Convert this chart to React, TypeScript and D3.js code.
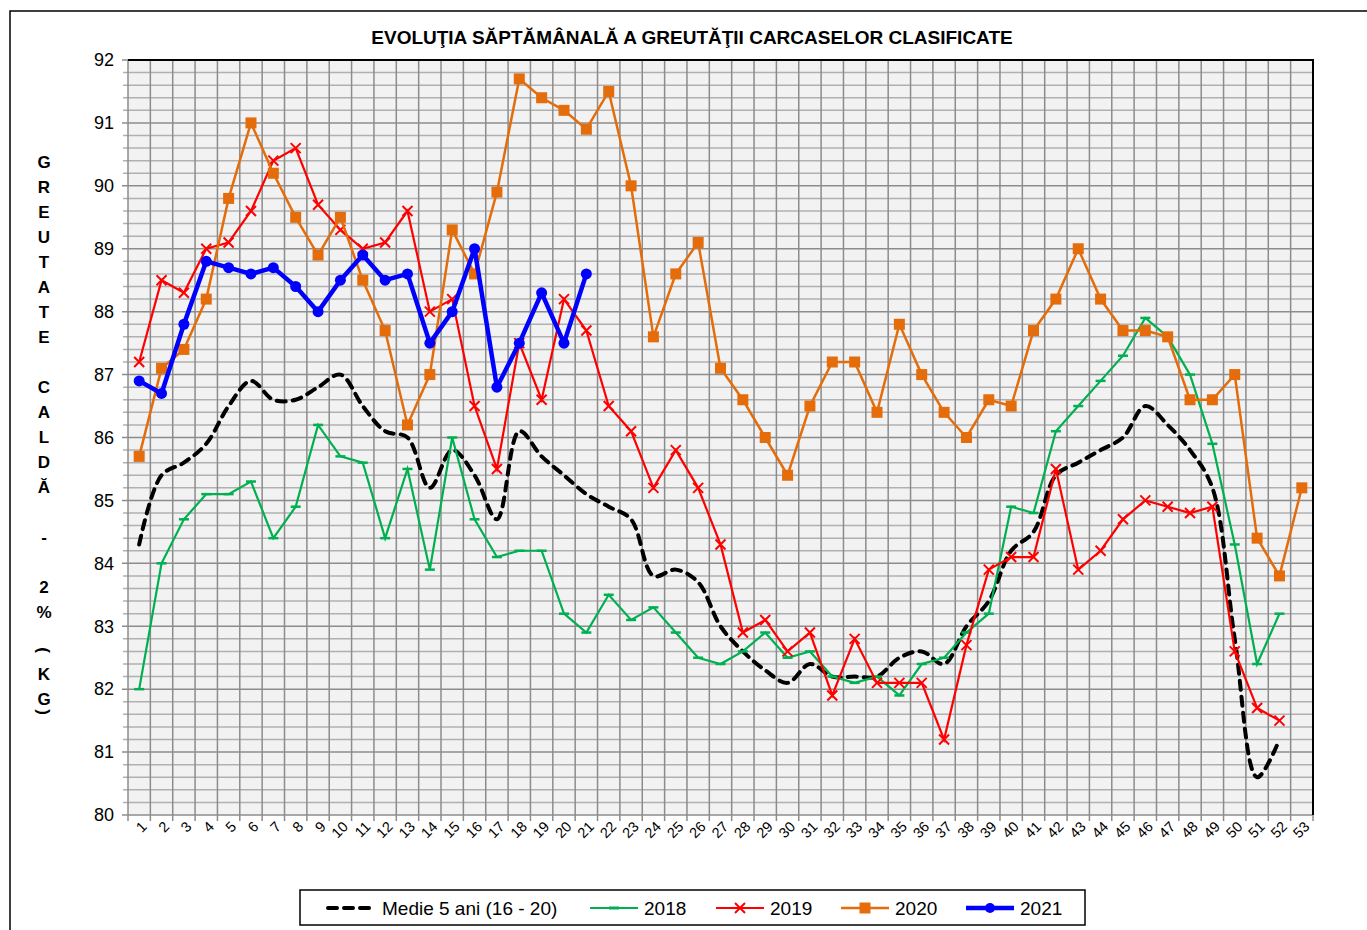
import React, { useEffect, useRef } from 'react';
import * as d3 from 'd3';

// week numbers on the x axis
const weeks: number[] = d3.range(1, 54);

// series values (kg)
const medie5: number[] = [84.3, 85.4, 85.6, 85.9, 86.5, 86.9, 86.6, 86.6, 86.8, 87.0, 86.5, 86.1, 86.0, 85.2, 85.8, 85.4, 84.7, 86.1, 85.7, 85.4, 85.1, 84.9, 84.7, 83.8, 83.9, 83.7, 83.0, 82.6, 82.3, 82.1, 82.4, 82.2, 82.2, 82.2, 82.5, 82.6, 82.4, 83.0, 83.4, 84.2, 84.5, 85.4, 85.6, 85.8, 86.0, 86.5, 86.2, 85.8, 85.2, 82.8, 80.6, 81.2];
const y2018: number[] = [82.0, 84.0, 84.7, 85.1, 85.1, 85.3, 84.4, 84.9, 86.2, 85.7, 85.6, 84.4, 85.5, 83.9, 86.0, 84.7, 84.1, 84.2, 84.2, 83.2, 82.9, 83.5, 83.1, 83.3, 82.9, 82.5, 82.4, 82.6, 82.9, 82.5, 82.6, 82.2, 82.1, 82.2, 81.9, 82.4, 82.5, 82.9, 83.2, 84.9, 84.8, 86.1, 86.5, 86.9, 87.3, 87.9, 87.6, 87.0, 85.9, 84.3, 82.4, 83.2];
const y2019: number[] = [87.2, 88.5, 88.3, 89.0, 89.1, 89.6, 90.4, 90.6, 89.7, 89.3, 89.0, 89.1, 89.6, 88.0, 88.2, 86.5, 85.5, 87.5, 86.6, 88.2, 87.7, 86.5, 86.1, 85.2, 85.8, 85.2, 84.3, 82.9, 83.1, 82.6, 82.9, 81.9, 82.8, 82.1, 82.1, 82.1, 81.2, 82.7, 83.9, 84.1, 84.1, 85.5, 83.9, 84.2, 84.7, 85.0, 84.9, 84.8, 84.9, 82.6, 81.7, 81.5];
const y2020: number[] = [85.7, 87.1, 87.4, 88.2, 89.8, 91.0, 90.2, 89.5, 88.9, 89.5, 88.5, 87.7, 86.2, 87.0, 89.3, 88.6, 89.9, 91.7, 91.4, 91.2, 90.9, 91.5, 90.0, 87.6, 88.6, 89.1, 87.1, 86.6, 86.0, 85.4, 86.5, 87.2, 87.2, 86.4, 87.8, 87.0, 86.4, 86.0, 86.6, 86.5, 87.7, 88.2, 89.0, 88.2, 87.7, 87.7, 87.6, 86.6, 86.6, 87.0, 84.4, 83.8, 85.2];
const y2021: number[] = [86.9, 86.7, 87.8, 88.8, 88.7, 88.6, 88.7, 88.4, 88.0, 88.5, 88.9, 88.5, 88.6, 87.5, 88.0, 89.0, 86.8, 87.5, 88.3, 87.5, 88.6];

const yTicks: number[] = [80, 81, 82, 83, 84, 85, 86, 87, 88, 89, 90, 91, 92];
const axisTitle: string[] = ['G', 'R', 'E', 'U', 'T', 'A', 'T', 'E', ' ', 'C', 'A', 'L', 'D', 'Ă', ' ', '-', ' ', '2', '%', ' ', '(', 'K', 'G', ')'];

const FONT = 'Liberation Sans, Arial, sans-serif';

const App = () => {
    const ref = useRef<SVGSVGElement>(null);

    useEffect(() => {
        const svg = d3.select(ref.current);
        svg.selectAll('*').remove();

        const left = 128, right = 1313, top = 60, bottom = 815;

        // outer chart frame
        svg.append('rect').attr('x', 10).attr('y', 11).attr('width', 1400).attr('height', 1000)
            .attr('fill', '#fff').attr('stroke', '#000').attr('stroke-width', 1.5);

        svg.append('text').attr('x', 692).attr('y', 44).attr('text-anchor', 'middle')
            .attr('font-family', FONT).attr('font-weight', 'bold').attr('font-size', 19)
            .text('EVOLUŢIA SĂPTĂMÂNALĂ A GREUTĂŢII CARCASELOR CLASIFICATE');

        const x = d3.scaleBand<number>().domain(weeks).range([left, right]);
        const y = d3.scaleLinear().domain([80, 92]).range([bottom, top]);
        const cx = (i: number) => (x(weeks[i]) as number) + x.bandwidth() / 2;

        // plot area
        svg.append('rect').attr('x', left).attr('y', top).attr('width', right - left).attr('height', bottom - top)
            .attr('fill', '#f2f2f2');

        // minor horizontal gridlines
        const minor = d3.range(80, 92.001, 0.2).map((v) => +v.toFixed(1));
        svg.append('g').selectAll('line').data(minor.filter((v) => Math.abs(v - Math.round(v)) > 0.01)).enter()
            .append('line').attr('x1', left - 5).attr('x2', right).attr('y1', (d) => y(d)).attr('y2', (d) => y(d))
            .attr('stroke', '#b0b0b0').attr('stroke-width', 1.5);

        // vertical gridlines at week boundaries
        const bounds = weeks.map((w) => x(w) as number).concat([right]);
        svg.append('g').selectAll('line').data(bounds).enter()
            .append('line').attr('x1', (d) => d).attr('x2', (d) => d).attr('y1', top).attr('y2', bottom + 6)
            .attr('stroke', '#8c8c8c').attr('stroke-width', 1.5);

        // major horizontal gridlines
        svg.append('g').selectAll('line').data(yTicks).enter()
            .append('line').attr('x1', left - 6).attr('x2', right).attr('y1', (d) => y(d)).attr('y2', (d) => y(d))
            .attr('stroke', '#8c8c8c').attr('stroke-width', 1.5);

        // plot border top/right
        svg.append('line').attr('x1', left).attr('x2', right + 1).attr('y1', top).attr('y2', top).attr('stroke', '#000').attr('stroke-width', 2);
        svg.append('line').attr('x1', right).attr('x2', right).attr('y1', top).attr('y2', bottom).attr('stroke', '#000').attr('stroke-width', 2);

        // y tick labels
        svg.append('g').selectAll('text').data(yTicks).enter()
            .append('text').attr('x', 114).attr('y', (d) => y(d)).attr('dy', '0.35em').attr('text-anchor', 'end')
            .attr('font-family', FONT).attr('font-size', 18).text((d) => d);

        // x tick labels, rotated
        svg.append('g').selectAll('text').data(weeks).enter()
            .append('text')
            .attr('transform', (d, i) => `translate(${cx(i) + 5},${bottom + 9}) rotate(-45)`)
            .attr('text-anchor', 'end').attr('dy', '0.35em')
            .attr('font-family', FONT).attr('font-size', 14.5).text((d) => d);

        // stacked y axis title
        let ty = 162;
        axisTitle.forEach((ch) => {
            if (ch === '(' || ch === ')') {
                ty -= 12;
                svg.append('text').attr('transform', `translate(44,${ty}) rotate(90)`)
                    .attr('text-anchor', 'middle').attr('dy', '0.35em')
                    .attr('font-family', FONT).attr('font-weight', 'bold').attr('font-size', 17).text(ch);
                ty += 24;
                return;
            }
            svg.append('text').attr('x', 44).attr('y', ty).attr('text-anchor', 'middle').attr('dy', '0.35em')
                .attr('font-family', FONT).attr('font-weight', 'bold').attr('font-size', 17).text(ch);
            ty += 25;
        });

        const line = d3.line<number>().x((d, i) => cx(i)).y((d) => y(d));
        const smooth = d3.line<number>().x((d, i) => cx(i)).y((d) => y(d)).curve(d3.curveCatmullRom.alpha(0.5));

        // Medie 5 ani
        svg.append('path').datum(medie5).attr('d', smooth).attr('fill', 'none')
            .attr('stroke', '#000').attr('stroke-width', 4).attr('stroke-dasharray', '9,7').attr('stroke-linecap', 'round');

        // 2018
        svg.append('path').datum(y2018).attr('d', line).attr('fill', 'none').attr('stroke', '#00b050').attr('stroke-width', 2.2);
        svg.append('g').selectAll('line').data(y2018).enter().append('line')
            .attr('x1', (d, i) => cx(i) - 5).attr('x2', (d, i) => cx(i) + 5).attr('y1', (d) => y(d)).attr('y2', (d) => y(d))
            .attr('stroke', '#00b050').attr('stroke-width', 2.5);

        // 2019
        svg.append('path').datum(y2019).attr('d', line).attr('fill', 'none').attr('stroke', '#ff0000').attr('stroke-width', 2.2);
        svg.append('g').selectAll('path').data(y2019).enter().append('path')
            .attr('d', (d, i) => { const px = cx(i), py = y(d), s = 5; return `M${px - s},${py - s}L${px + s},${py + s}M${px - s},${py + s}L${px + s},${py - s}`; })
            .attr('stroke', '#ff0000').attr('stroke-width', 2).attr('fill', 'none');

        // 2020
        svg.append('path').datum(y2020).attr('d', line).attr('fill', 'none').attr('stroke', '#e46c0a').attr('stroke-width', 2.5);
        svg.append('g').selectAll('rect').data(y2020).enter().append('rect')
            .attr('x', (d, i) => cx(i) - 5.5).attr('y', (d) => y(d) - 5.5).attr('width', 11).attr('height', 11)
            .attr('fill', '#e46c0a');

        // 2021
        svg.append('path').datum(y2021).attr('d', line).attr('fill', 'none').attr('stroke', '#0000ff').attr('stroke-width', 4.5)
            .attr('stroke-linejoin', 'round');
        svg.append('g').selectAll('circle').data(y2021).enter().append('circle')
            .attr('cx', (d, i) => cx(i)).attr('cy', (d) => y(d)).attr('r', 5.5).attr('fill', '#0000ff');

        // legend
        const lg = svg.append('g');
        lg.append('rect').attr('x', 300).attr('y', 890).attr('width', 785).attr('height', 35)
            .attr('fill', '#fff').attr('stroke', '#000').attr('stroke-width', 1.5);
        const ly = 908;
        const items = [
            { x: 328, label: 'Medie 5 ani (16 - 20)', color: '#000', width: 4, dash: '9,7', marker: 'none' },
            { x: 590, label: '2018', color: '#00b050', width: 2.2, dash: null, marker: 'dash' },
            { x: 716, label: '2019', color: '#ff0000', width: 2.2, dash: null, marker: 'x' },
            { x: 841, label: '2020', color: '#e46c0a', width: 2.5, dash: null, marker: 'square' },
            { x: 966, label: '2021', color: '#0000ff', width: 4.5, dash: null, marker: 'circle' },
        ];
        items.forEach((it) => {
            const l = lg.append('line').attr('x1', it.x).attr('x2', it.x + 48).attr('y1', ly).attr('y2', ly)
                .attr('stroke', it.color).attr('stroke-width', it.width);
            if (it.dash) l.attr('stroke-dasharray', it.dash).attr('stroke-linecap', 'round');
            const mx = it.x + 24;
            if (it.marker === 'dash') {
                lg.append('line').attr('x1', mx - 5).attr('x2', mx + 5).attr('y1', ly).attr('y2', ly).attr('stroke', it.color).attr('stroke-width', 3);
            } else if (it.marker === 'x') {
                lg.append('path').attr('d', `M${mx - 5},${ly - 5}L${mx + 5},${ly + 5}M${mx - 5},${ly + 5}L${mx + 5},${ly - 5}`)
                    .attr('stroke', it.color).attr('stroke-width', 2);
            } else if (it.marker === 'square') {
                lg.append('rect').attr('x', mx - 5.5).attr('y', ly - 5.5).attr('width', 11).attr('height', 11).attr('fill', it.color);
            } else if (it.marker === 'circle') {
                lg.append('circle').attr('cx', mx).attr('cy', ly).attr('r', 5).attr('fill', it.color);
            }
            lg.append('text').attr('x', it.x + 54).attr('y', ly).attr('dy', '0.35em')
                .attr('font-family', FONT).attr('font-size', 19).text(it.label);
        });
    }, []);

    return (
        <svg ref={ref} width={1367} height={930} style={{ position: 'absolute', left: 0, top: 0 }} />
    );
};

export default App;
